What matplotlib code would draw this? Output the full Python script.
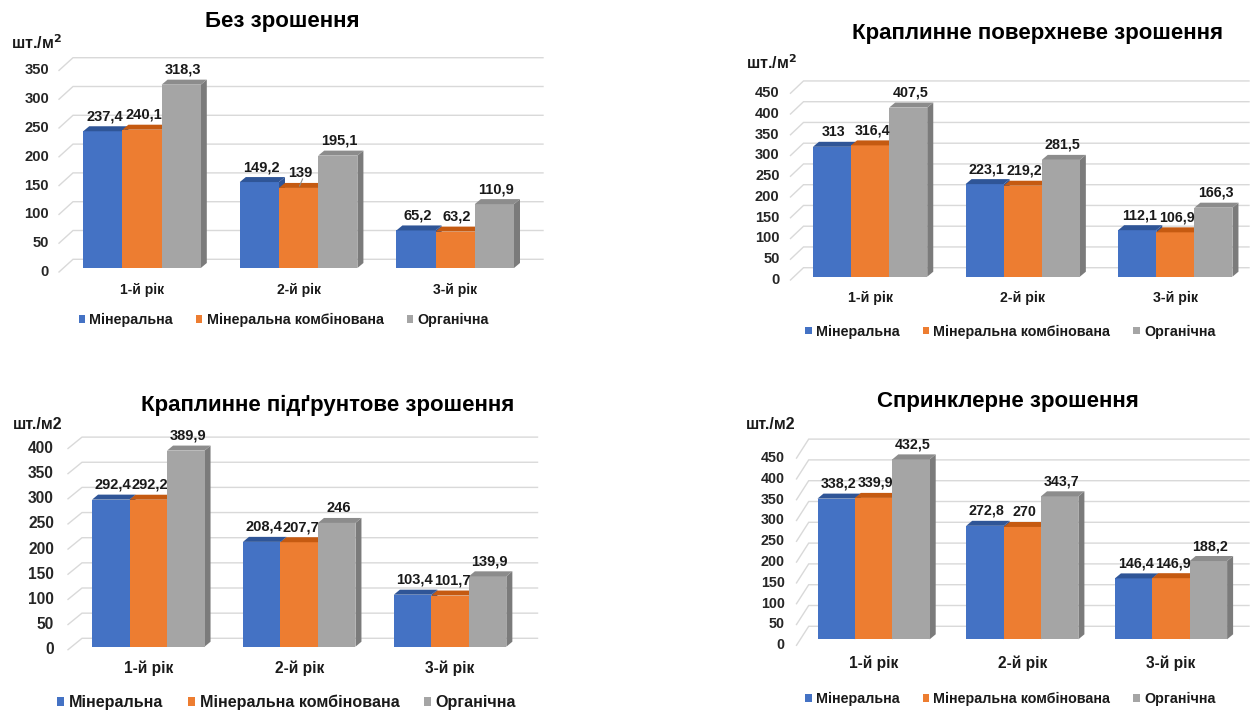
import matplotlib
matplotlib.use("Agg")
import matplotlib.pyplot as plt
from matplotlib.patches import Polygon, Rectangle

plt.rcParams['font.family'] = ['Liberation Sans', 'DejaVu Sans']
plt.rcParams['font.weight'] = 'bold'

# категорії і серії
years = ["1-й рік", "2-й рік", "3-й рік"]
series_names = ["Мінеральна", "Мінеральна комбінована", "Органічна"]

# Без зрошення
no_irr_min = [237.4, 149.2, 65.2]
no_irr_comb = [240.1, 139, 63.2]
no_irr_org = [318.3, 195.1, 110.9]

# Краплинне поверхневе зрошення
drip_surf_min = [313, 223.1, 112.1]
drip_surf_comb = [316.4, 219.2, 106.9]
drip_surf_org = [407.5, 281.5, 166.3]

# Краплинне підґрунтове зрошення
drip_sub_min = [292.4, 208.4, 103.4]
drip_sub_comb = [292.2, 207.7, 101.7]
drip_sub_org = [389.9, 246, 139.9]

# Спринклерне зрошення
sprinkler_min = [338.2, 272.8, 146.4]
sprinkler_comb = [339.9, 270, 146.9]
sprinkler_org = [432.5, 343.7, 188.2]

front_colors = ["#4472C4", "#ED7D31", "#A5A5A5"]
top_colors = ["#2F5597", "#C55A11", "#8C8C8C"]
side_colors = ["#2F5597", "#C55A11", "#7B7B7B"]

W, H = 1250, 711

# розмітка в пікселях (зверху вниз)
panels = [
    dict(title="Без зрошення", unit="шт./м$^\\mathbf{2}$", data=[no_irr_min, no_irr_comb, no_irr_org],
         ymax=350, base=268, scale=0.576, c0=142, spacing=156.6, width=39.2,
         front_x=59, grid_x0=73, grid_x1=543, front_off=4, back_off=8.7, tick_pad=10,
         title_xy=(282, 22), unit_xy=(11, 43), cat_y=290, leg_xy=(78.6, 320),
         fs_tick=10.6, fs_val=10.5, fs_cat=10, fs_leg=10.3, colsp=1.6, leader=(1, 1)),
    dict(title="Краплинне поверхневе зрошення", unit="шт./м$^\\mathbf{2}$",
         data=[drip_surf_min, drip_surf_comb, drip_surf_org],
         ymax=450, base=276.7, scale=0.415, c0=870.1, spacing=152.6, width=38.1,
         front_x=790.5, grid_x0=803.5, grid_x1=1249, front_off=3.3, back_off=9, tick_pad=11,
         title_xy=(1037.6, 33), unit_xy=(745.6, 63), cat_y=298, leg_xy=(805.2, 331.7),
         fs_tick=10.5, fs_val=10.3, fs_cat=10.2, fs_leg=10.3, colsp=1.6, leader=None),
    dict(title="Краплинне підґрунтове зрошення", unit="шт./м2",
         data=[drip_sub_min, drip_sub_comb, drip_sub_org],
         ymax=400, base=646.7, scale=0.503, c0=148.3, spacing=150.9, width=37.5,
         front_x=68, grid_x0=82, grid_x1=537.5, front_off=3, back_off=8.4, tick_pad=14,
         title_xy=(327.7, 405), unit_xy=(12.5, 425), cat_y=668, leg_xy=(57, 702.7),
         fs_tick=11.2, fs_val=10.5, fs_cat=11.2, fs_leg=11.6, colsp=1.5, leader=None),
    dict(title="Спринклерне зрошення", unit="шт./м2",
         data=[sprinkler_min, sprinkler_comb, sprinkler_org],
         ymax=450, base=639.3, scale=0.416, c0=873.6, spacing=148.7, width=37.4,
         front_x=796.5, grid_x0=808.7, grid_x1=1249, front_off=6, back_off=13, tick_pad=12,
         title_xy=(1007.8, 402), unit_xy=(745.6, 425), cat_y=663, leg_xy=(805.2, 699.3),
         fs_tick=10.3, fs_val=10.3, fs_cat=11.2, fs_leg=10.3, colsp=1.6, leader=None),
]


def fmt(v):
    return f"{v:g}".replace(".", ",")


fig = plt.figure(figsize=(W / 100, H / 100), dpi=100)

for p in panels:
    base, sc, c0, sp = p["base"], p["scale"], p["c0"], p["spacing"]
    top_px = base - p["ymax"] * sc - p["back_off"] - 6
    bot_px = base + p["front_off"]
    ax = fig.add_axes([p["front_x"] / W, 1 - bot_px / H,
                       (p["grid_x1"] - p["front_x"]) / W, (bot_px - top_px) / H])
    ax.set_xlim((p["front_x"] - c0) / sp, (p["grid_x1"] - c0) / sp)
    ax.set_ylim(-p["front_off"] / sc, (base - top_px) / sc)
    ax.axis("off")

    fo = p["front_off"] / sc
    bo = p["back_off"] / sc
    xf = (p["front_x"] - c0) / sp
    xb = (p["grid_x0"] - c0) / sp
    xe = (p["grid_x1"] - c0) / sp

    # сітка (задня стінка + діагональ)
    ticks = list(range(0, p["ymax"] + 1, 50))
    for t in ticks:
        ax.plot([xf, xb, xe], [t - fo, t + bo, t + bo], color="#D9D9D9",
                lw=1, zorder=1, clip_on=False, solid_joinstyle="miter")
        ax.text(xf - p["tick_pad"] / sp, t - fo, str(t), ha="right", va="center",
                fontsize=p["fs_tick"], color="#262626", fontweight="bold")

    w = p["width"] / sp
    ddx = 6 / sp
    ddy = 5 / sc
    for i in range(len(years)):
        for j, vals in enumerate(p["data"]):
            v = vals[i]
            x0 = i + (j - 1.5) * w
            ax.add_patch(Polygon([(x0 + w, 0), (x0 + w, v), (x0 + w + ddx, v + ddy),
                                  (x0 + w + ddx, ddy)], closed=True,
                                 fc=side_colors[j], ec="none", zorder=3 + j))
            ax.add_patch(Rectangle((x0, 0), w, v, fc=front_colors[j], ec="none",
                                   zorder=3 + j))
            ax.add_patch(Polygon([(x0, v), (x0 + w, v), (x0 + w + ddx, v + ddy),
                                  (x0 + ddx, v + ddy)], closed=True,
                                 fc=top_colors[j], ec="none", zorder=3 + j))
            ax.text(x0 + w / 2 + 2 / sp, v + 15 / sc, fmt(v), ha="center", va="center",
                    fontsize=p["fs_val"], color="#1A1A1A", fontweight="bold", zorder=10)
        ax.text(i, -(p["cat_y"] - base) / sc, years[i], ha="center", va="center",
                fontsize=p["fs_cat"], color="#1A1A1A", fontweight="bold")

    if p["leader"] is not None:
        gi, sj = p["leader"]
        v = p["data"][sj][gi]
        xc = gi + (sj - 1) * w
        ax.plot([xc + 4 / sp, xc + 1 / sp], [v + 9 / sc, v + 2 / sc],
                color="#8C8C8C", lw=0.8, zorder=11)

    fig.text(p["title_xy"][0] / W, 1 - p["title_xy"][1] / H, p["title"],
             ha="center", va="center", fontsize=16, fontweight="bold", color="black")
    fig.text(p["unit_xy"][0] / W, 1 - p["unit_xy"][1] / H, p["unit"],
             ha="left", va="center", fontsize=11.5, fontweight="bold", color="#1A1A1A")

    handles = [Rectangle((0, 0), 1, 1, fc=c, ec="none") for c in front_colors]
    ax.legend(handles, series_names, loc="center left",
              bbox_to_anchor=(p["leg_xy"][0] / W, 1 - p["leg_xy"][1] / H),
              bbox_transform=fig.transFigure, ncol=3, frameon=False,
              handlelength=0.45, handleheight=0.45, handletextpad=0.3,
              columnspacing=p["colsp"], borderpad=0, borderaxespad=0,
              prop={"size": p["fs_leg"], "weight": "bold"}, labelcolor="#1A1A1A")

fig.savefig("out.png", dpi=100, facecolor="white")
